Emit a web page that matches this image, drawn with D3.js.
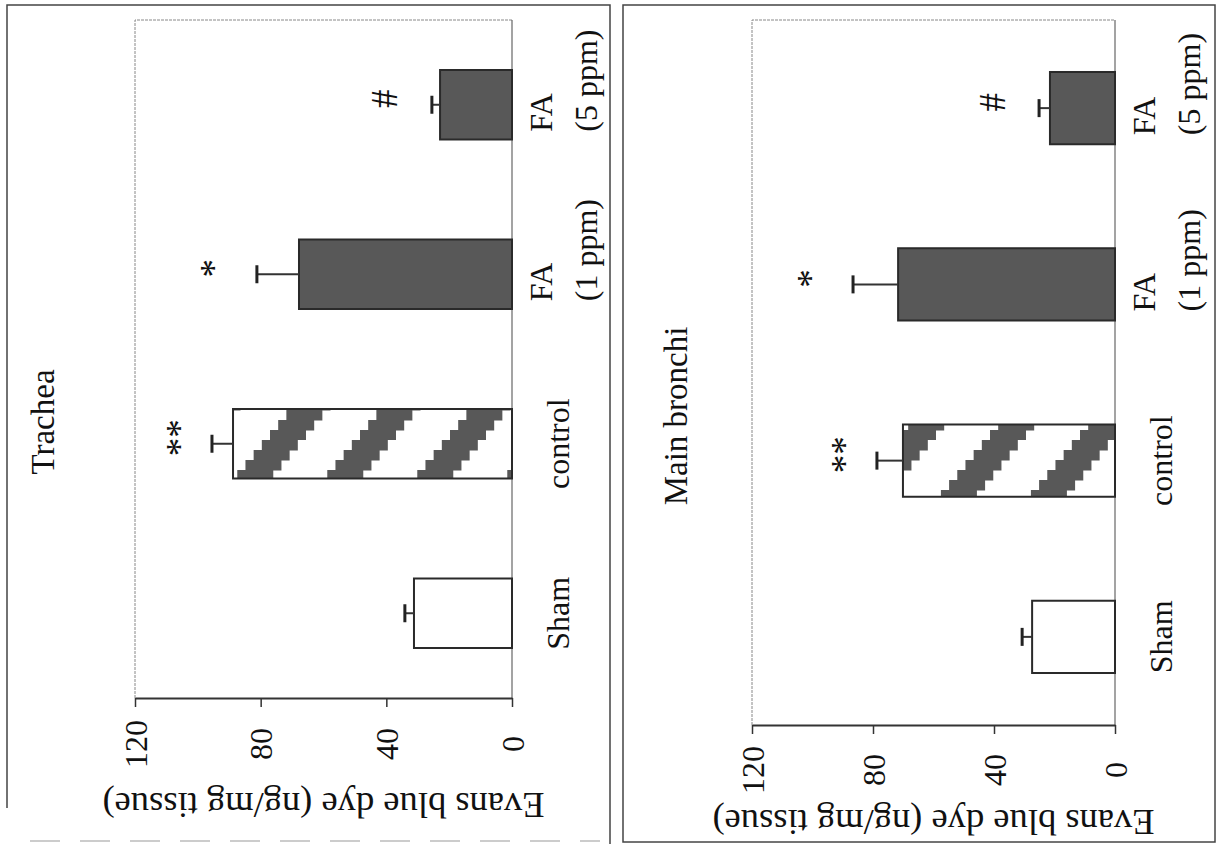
<!DOCTYPE html>
<html>
<head>
<meta charset="utf-8">
<script src="https://cdn.jsdelivr.net/npm/d3@7"></script>
<style>
  body { margin: 0; background: #fff; }
  svg { display: block; font-family: "Liberation Serif", "DejaVu Serif", serif; }
</style>
</head>
<body>
<svg id="chart" width="1218" height="844"></svg>
<script>
// data (rotated bar charts)
const categories = ["Sham", "control", "FA (1 ppm)", "FA (5 ppm)"];
const catLines = [["Sham"], ["control"], ["FA", "(1 ppm)"], ["FA", "(5 ppm)"]];
const tracheaMean = [31.2, 88.8, 67.8, 22.9];
const tracheaSem = [2.9, 6.7, 13.4, 2.6];
const bronchiMean = [27.4, 70.1, 71.7, 21.5];
const bronchiSem = [3.3, 8.6, 14.9, 3.6];
const marks = ["", "**", "*", "#"];
const valueTicks = [0, 40, 80, 120];
const fills = ["white", "url(#hatch)", "#585858", "#585858"];

const svg = d3.select("#chart");
const defs = svg.append("defs");

// staircase diagonal hatch for the control bar
const pw = 90, ph = 110, steps = 11, stripe = 36;
const pat = defs.append("pattern")
    .attr("id", "hatch")
    .attr("patternUnits", "userSpaceOnUse")
    .attr("width", pw).attr("height", ph);
pat.append("rect").attr("width", pw).attr("height", ph).attr("fill", "white");
for (let i = 0; i < steps; i++) {
    [-pw, 0].forEach(k => {
        pat.append("rect")
            .attr("x", k + i * pw / steps)
            .attr("y", ph - (i + 1) * ph / steps)
            .attr("width", stripe)
            .attr("height", ph / steps + 0.5)
            .attr("fill", "#585858");
    });
}

// outer panel borders
svg.append("path")
    .attr("d", "M7,808 V5 H610 V844")
    .attr("fill", "none").attr("stroke", "#444").attr("stroke-width", 1.5);
svg.append("line")
    .attr("x1", 30).attr("x2", 600).attr("y1", 841).attr("y2", 841)
    .attr("stroke", "#999").attr("stroke-width", 1).attr("stroke-dasharray", "30 20");
svg.append("rect")
    .attr("x", 623).attr("y", 5).attr("width", 592).attr("height", 837)
    .attr("fill", "none").attr("stroke", "#444").attr("stroke-width", 1.5);

function drawPanel(cfg, means, sems) {
    const g = svg.append("g");

    const x = d3.scaleLinear().domain([0, 120]).range([cfg.base, cfg.left]);
    const y = d3.scaleBand()
        .domain(categories)
        .range([cfg.bottom, cfg.top])
        .paddingInner(0.59)
        .paddingOuter(0.295);
    const mid = c => y(c) + y.bandwidth() / 2;

    // plot frame (thin grey)
    g.append("path")
        .attr("d", `M${cfg.left},${cfg.bottom} V${cfg.top} H${cfg.base}`)
        .attr("fill", "none").attr("stroke", "#888").attr("stroke-width", 1)
        .attr("stroke-dasharray", "3 1");
    g.append("line")
        .attr("x1", cfg.base).attr("x2", cfg.base)
        .attr("y1", cfg.top).attr("y2", cfg.bottom)
        .attr("stroke", "#666").attr("stroke-width", 1.2);

    // value axis (drawn at the bottom, 0 on the right)
    const axis = g.append("g")
        .attr("transform", `translate(0,${cfg.bottom})`)
        .call(d3.axisBottom(x).tickValues(valueTicks).tickSize(9).tickSizeOuter(0));
    axis.select(".domain").attr("stroke", "#333").attr("stroke-width", 2);
    axis.selectAll(".tick line").attr("stroke", "#333").attr("stroke-width", 1.5);
    axis.selectAll(".tick text")
        .attr("y", null).attr("dy", null)
        .attr("transform", `translate(0,${cfg.tickLabelY - cfg.bottom}) rotate(-90)`)
        .attr("text-anchor", "middle")
        .attr("dominant-baseline", "central")
        .attr("font-size", 32)
        .attr("font-family", "Liberation Serif, serif")
        .attr("fill", "#111");

    // bars
    g.selectAll("rect.bar")
        .data(categories)
        .join("rect")
        .attr("class", "bar")
        .attr("x", (c, i) => x(means[i]))
        .attr("y", c => y(c))
        .attr("width", (c, i) => x(0) - x(means[i]))
        .attr("height", y.bandwidth())
        .attr("fill", (c, i) => fills[i])
        .attr("stroke", "#2a2a2a")
        .attr("stroke-width", 2);

    // error bars
    const err = g.selectAll("g.err")
        .data(categories)
        .join("g")
        .attr("class", "err");
    err.append("line")
        .attr("x1", (c, i) => x(means[i]))
        .attr("x2", (c, i) => x(means[i] + sems[i]))
        .attr("y1", mid).attr("y2", mid)
        .attr("stroke", "#333").attr("stroke-width", 2);
    err.append("line")
        .attr("x1", (c, i) => x(means[i] + sems[i]))
        .attr("x2", (c, i) => x(means[i] + sems[i]))
        .attr("y1", c => mid(c) - 9).attr("y2", c => mid(c) + 9)
        .attr("stroke", "#222").attr("stroke-width", 3);

    // significance marks
    const markGap = { "**": 32, "*": 43, "#": 47 };
    g.selectAll("text.mark")
        .data(categories.filter((c, i) => marks[i]))
        .join("text")
        .attr("class", "mark")
        .attr("transform", c => {
            const i = categories.indexOf(c);
            const px = x(means[i] + sems[i]) - markGap[marks[i]];
            return `translate(${px},${mid(c) - 6}) rotate(-90)`;
        })
        .attr("text-anchor", "middle")
        .attr("dominant-baseline", "central")
        .attr("font-size", 37)
        .attr("fill", "#111")
        .text(c => marks[categories.indexOf(c)]);

    // category labels
    categories.forEach((c, i) => {
        const lines = catLines[i];
        if (lines.length === 1) {
            g.append("text")
                .attr("transform", `translate(${cfg.base + 46},${mid(c)}) rotate(-90)`)
                .attr("text-anchor", "middle")
                .attr("dominant-baseline", "central")
                .attr("font-size", 32).attr("fill", "#111")
                .text(lines[0]);
        } else {
            lines.forEach((t, j) => {
                g.append("text")
                    .attr("transform", `translate(${cfg.base + 29 + j * 45},${mid(c) + 27}) rotate(-90)`)
                    .attr("text-anchor", "start")
                    .attr("dominant-baseline", "central")
                    .attr("font-size", 32).attr("fill", "#111")
                    .text(t);
            });
        }
    });

    // panel title
    g.append("text")
        .attr("transform", `translate(${cfg.titleX},${cfg.titleY}) rotate(-90)`)
        .attr("text-anchor", "middle")
        .attr("dominant-baseline", "central")
        .attr("font-size", 33).attr("fill", "#111")
        .text(cfg.title);

    // value axis title (upside down)
    g.append("text")
        .attr("transform", `translate(${(cfg.left + cfg.base) / 2},${cfg.labelY}) rotate(180)`)
        .attr("text-anchor", "middle")
        .attr("dominant-baseline", "central")
        .attr("font-size", 36.5).attr("fill", "#111")
        .text("Evans blue dye (ng/mg tissue)");
}

drawPanel({ title: "Trachea", left: 135, base: 512, top: 20, bottom: 698,
            tickLabelY: 744, titleX: 43, titleY: 422, labelY: 805 },
          tracheaMean, tracheaSem);
drawPanel({ title: "Main bronchi", left: 752, base: 1115, top: 20, bottom: 725,
            tickLabelY: 770, titleX: 676, titleY: 416, labelY: 822 },
          bronchiMean, bronchiSem);
</script>
</body>
</html>
